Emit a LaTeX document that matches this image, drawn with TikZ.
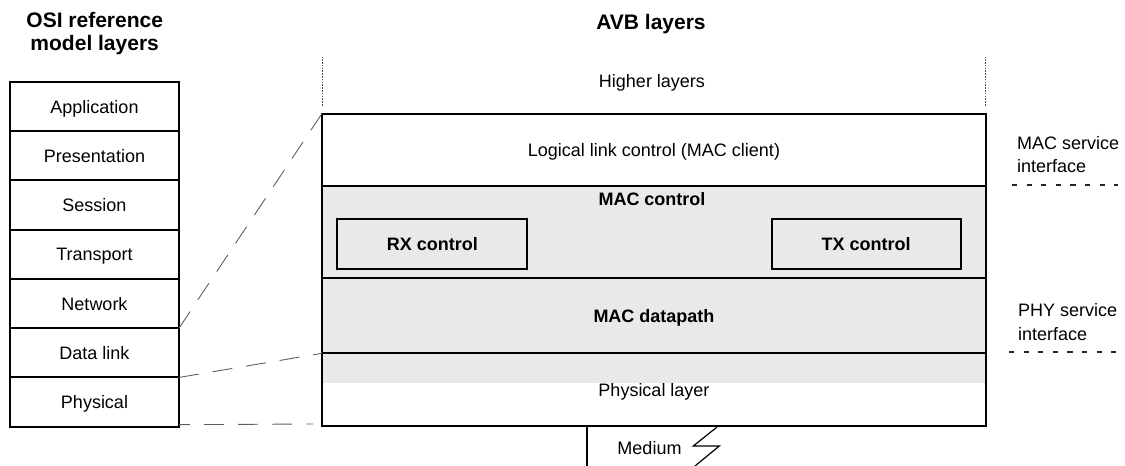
\documentclass[tikz,border=0pt]{standalone}
\usepackage{fontspec}
\setmainfont{Liberation Sans}
\usetikzlibrary{backgrounds}
\definecolor{avbgray}{RGB}{233,233,233}
\definecolor{linkgray}{RGB}{95,95,95}

\begin{document}
\begin{tikzpicture}[x=0.5pt, y=-0.5pt,
  font=\fontsize{9}{11}\selectfont,
  % one layer box of the stacks
  lay/.style={draw, line width=1pt, rectangle, inner sep=0pt, outer sep=0pt,
              text height=6.45pt, text depth=0pt},
  osi/.style={lay, minimum width=84.5pt, minimum height=24.62pt},
  avb/.style={lay, minimum width=332pt, anchor=north west},
  ctl/.style={lay, anchor=north west, minimum height=25.15pt,
              font=\fontsize{9}{11}\selectfont\bfseries},
  title/.style={anchor=base, font=\fontsize{10.5}{12}\selectfont\bfseries},
  txt/.style={anchor=base},
  capc/.style={inner sep=0pt, text height=6.45pt, text depth=0pt},
  % mapping between the two stacks
  maplink/.style={draw=linkgray, line width=0.45pt, dash pattern=on 10pt off 7pt},
  vdot/.style={draw=black!70, line width=0.45pt, dash pattern=on 0.8pt off 0.6pt},
  iface/.style={draw=black!85, line width=1pt, dash pattern=on 2.6pt off 4.7pt},
]
\useasboundingbox (0,0) rectangle (1125,466);

% headings
\node[title] (osiT1) at (94.7,27.3) {OSI reference};
\node[title] (osiT2) at (94.7,50) {model layers};
\node[title] (avbT) at (651,30) {AVB layers};

% OSI reference model stack
\node[osi, anchor=north west] (app) at (10,82) {Application};
\node[osi, anchor=north] (pres) at (app.south) {Presentation};
\node[osi, anchor=north] (sess) at (pres.south) {Session};
\node[osi, anchor=north] (trans) at (sess.south) {Transport};
\node[osi, anchor=north] (net) at (trans.south) {Network};
\node[osi, anchor=north] (dlink) at (net.south) {Data link};
\node[osi, anchor=north] (phy) at (dlink.south) {Physical};

% AVB stack
\node[txt] (higher) at (652,87.3) {Higher layers};
\node[avb, minimum height=36.1pt] (llc) at (322,113.5) {Logical link control (MAC client)};
\node[avb, minimum height=46.15pt] (macctl) at (llc.south west) {};
\node[avb, minimum height=37.65pt] (datapath) at (macctl.south west)
     {\bfseries MAC datapath};
\node[avb, minimum height=36.35pt] (phys) at (datapath.south west) {Physical layer};

\begin{scope}[on background layer]
  \fill[avbgray] (macctl.north west) rectangle ([yshift=-15pt]datapath.south east);
\end{scope}

\node[capc, font=\fontsize{9}{11}\selectfont\bfseries] (macT) at (652,199) {MAC control};
\node[ctl, minimum width=95pt] (rx) at (337.3,219) {RX control};
\node[ctl, minimum width=94.5pt] (tx) at (771.7,219) {TX control};

% open ends of the AVB stack towards the higher layers
\draw[vdot] ([yshift=4pt]llc.north west) -- ([yshift=28.5pt]llc.north west);
\draw[vdot] ([xshift=-0.5pt,yshift=4pt]llc.north east) -- ([xshift=-0.5pt,yshift=28.5pt]llc.north east);

% mapping of OSI layers onto the AVB layers
\draw[maplink] (net.south east) -- (llc.north west);
\draw[maplink] (phy.north east) -- (datapath.south west);
\draw[maplink, dash phase=4.5pt] ([yshift=1pt]phy.south east) -- ([xshift=-4.5pt,yshift=1pt]phys.south west);

% service interfaces
\node[txt, anchor=base west] (macsvc1) at (1010,149.3) {MAC service};
\node[txt, anchor=base west] (macsvc2) at (1010,172.7) {interface};
\coordinate (macifA) at (1012,185);
\coordinate (macifB) at (1118,185);
\draw[iface] (macifA) -- (macifB);

\node[txt, anchor=base west] (physvc1) at (1011,316) {PHY service};
\node[txt, anchor=base west] (physvc2) at (1011,340) {interface};
\coordinate (phyifA) at (1009,352.3);
\coordinate (phyifB) at (1117,352.3);
\draw[iface] (phyifA) -- (phyifB);

% medium
\coordinate (medTop) at (586.7,426);
\coordinate (medBot) at (586.7,466);
\draw[line width=1pt] (medTop) -- (medBot);
\node[txt] (medium) at (649.5,454.3) {Medium};
\draw[line width=0.6pt, line join=miter]
  (716.7,427.3) -- (693.3,446) -- (719.3,446) -- (695,466);
\end{tikzpicture}
\end{document}
